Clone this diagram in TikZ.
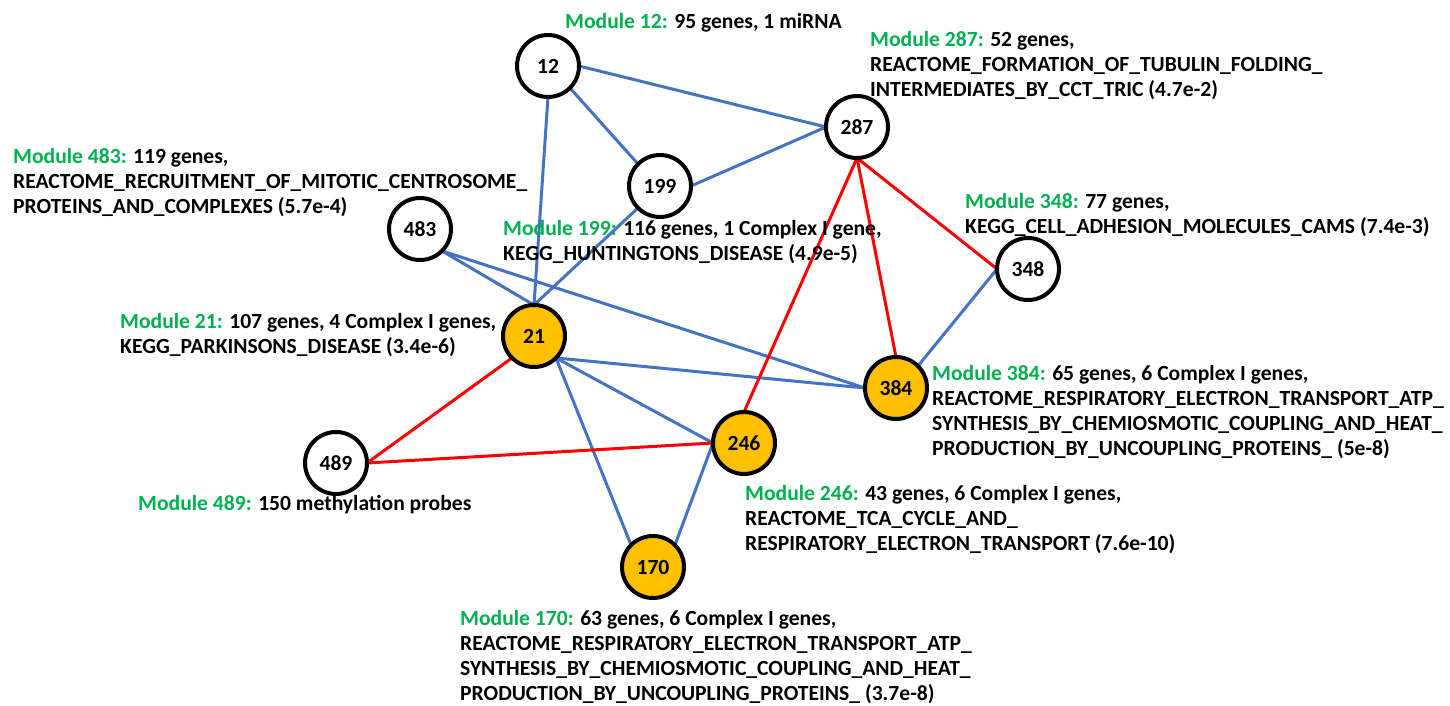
\documentclass[tikz,border=0pt]{standalone}
\usepackage{fontspec}
\setmainfont{Carlito}
\usetikzlibrary{backgrounds}
\definecolor{modgreen}{RGB}{0,176,80}
\definecolor{edgeblue}{RGB}{68,114,196}
\definecolor{edgered}{RGB}{255,0,0}
\definecolor{modgold}{RGB}{255,192,0}
\newcommand\mg[1]{\rule{0pt}{17pt}\textcolor{modgreen}{#1}}
\begin{document}
\begin{tikzpicture}[x=1pt,y=-1pt,
  modnode/.style={circle,draw=black,line width=4pt,minimum size=62pt,inner sep=0pt,outer sep=0pt,fill=white,font=\bfseries\fontsize{21.6}{25}\selectfont},
  hotnode/.style={modnode,fill=modgold},
  lab/.style={anchor=north west,inner sep=0pt,align=left,font=\bfseries\fontsize{21.6}{25}\selectfont},
  blueedge/.style={draw=edgeblue,line width=3pt},
  rededge/.style={draw=edgered,line width=3pt}]
\path[use as bounding box] (0,0) rectangle (1450,706);

% module nodes
\node[modnode] (n12)  at (548,66)  {12};
\node[modnode] (n287) at (857,127) {287};
\node[modnode] (n199) at (660,186) {199};
\node[modnode] (n483) at (420,229) {483};
\node[modnode] (n348) at (1028,269) {348};
\node[hotnode] (n21)  at (534,336) {21};
\node[hotnode] (n384) at (896,388) {384};
\node[hotnode] (n246) at (744,443) {246};
\node[modnode] (n489) at (336,463) {489};
\node[hotnode] (n170) at (653,567) {170};

% labels
\node[lab] (l12) at (565,11) {\mg{Module 12:} 95 genes, 1 miRNA};
\node[lab] (l287) at (870,29) {\mg{Module 287:} 52 genes,\\REACTOME\_FORMATION\_OF\_TUBULIN\_FOLDING\_\\INTERMEDIATES\_BY\_CCT\_TRIC (4.7e-2)};
\node[lab] (l483) at (13,146) {\mg{Module 483:} 119 genes,\\REACTOME\_RECRUITMENT\_OF\_MITOTIC\_CENTROSOME\_\\PROTEINS\_AND\_COMPLEXES (5.7e-4)};
\node[lab] (l199) at (503,218) {\mg{Module 199:} 116 genes, 1 Complex I gene,\\KEGG\_HUNTINGTONS\_DISEASE (4.9e-5)};
\node[lab] (l348) at (965,191) {\mg{Module 348:} 77 genes,\\KEGG\_CELL\_ADHESION\_MOLECULES\_CAMS (7.4e-3)};
\node[lab] (l21) at (120,311) {\mg{Module 21:} 107 genes, 4 Complex I genes,\\KEGG\_PARKINSONS\_DISEASE (3.4e-6)};
\node[lab] (l489) at (138,493) {\mg{Module 489:} 150 methylation probes};
\node[lab] (l384) at (932,363) {\mg{Module 384:} 65 genes, 6 Complex I genes,\\REACTOME\_RESPIRATORY\_ELECTRON\_TRANSPORT\_ATP\_\\SYNTHESIS\_BY\_CHEMIOSMOTIC\_COUPLING\_AND\_HEAT\_\\PRODUCTION\_BY\_UNCOUPLING\_PROTEINS\_ (5e-8)};
\node[lab] (l246) at (745,483) {\mg{Module 246:} 43 genes, 6 Complex I genes,\\REACTOME\_TCA\_CYCLE\_AND\_\\RESPIRATORY\_ELECTRON\_TRANSPORT (7.6e-10)};
\node[lab] (l170) at (460,608) {\mg{Module 170:} 63 genes, 6 Complex I genes,\\REACTOME\_RESPIRATORY\_ELECTRON\_TRANSPORT\_ATP\_\\SYNTHESIS\_BY\_CHEMIOSMOTIC\_COUPLING\_AND\_HEAT\_\\PRODUCTION\_BY\_UNCOUPLING\_PROTEINS\_ (3.7e-8)};

\begin{pgfonlayer}{background}
% blue edges
\draw[blueedge] (n12.east) -- (n287.west);
\draw[blueedge] (n12.south east) -- (n199.north west);
\draw[blueedge] (n12.south) -- (n21.north);
\draw[blueedge] (n199.east) -- (n287.west);
\draw[blueedge] (n199.south west) -- (n21.north);
\draw[blueedge] (n483.south east) -- (n21.north);
\draw[blueedge] (n483.south east) -- (n384.west);
\draw[blueedge] (n21.south east) -- (n384.west);
\draw[blueedge] (n21.south east) -- (n246.west);
\draw[blueedge] (n21.south east) -- (n170.north west);
\draw[blueedge] (n246.west) -- (n170.north east);
\draw[blueedge] (n348.west) -- (n384.north east);
% red edges
\draw[rededge] (n489.east) -- (n21.south west);
\draw[rededge] (n489.east) -- (n246.west);
\draw[rededge] (n287.south) -- (n246.north);
\draw[rededge] (n287.south) -- (n384.north);
\draw[rededge] (n287.south) -- (n348.west);
\end{pgfonlayer}
\end{tikzpicture}
\end{document}
